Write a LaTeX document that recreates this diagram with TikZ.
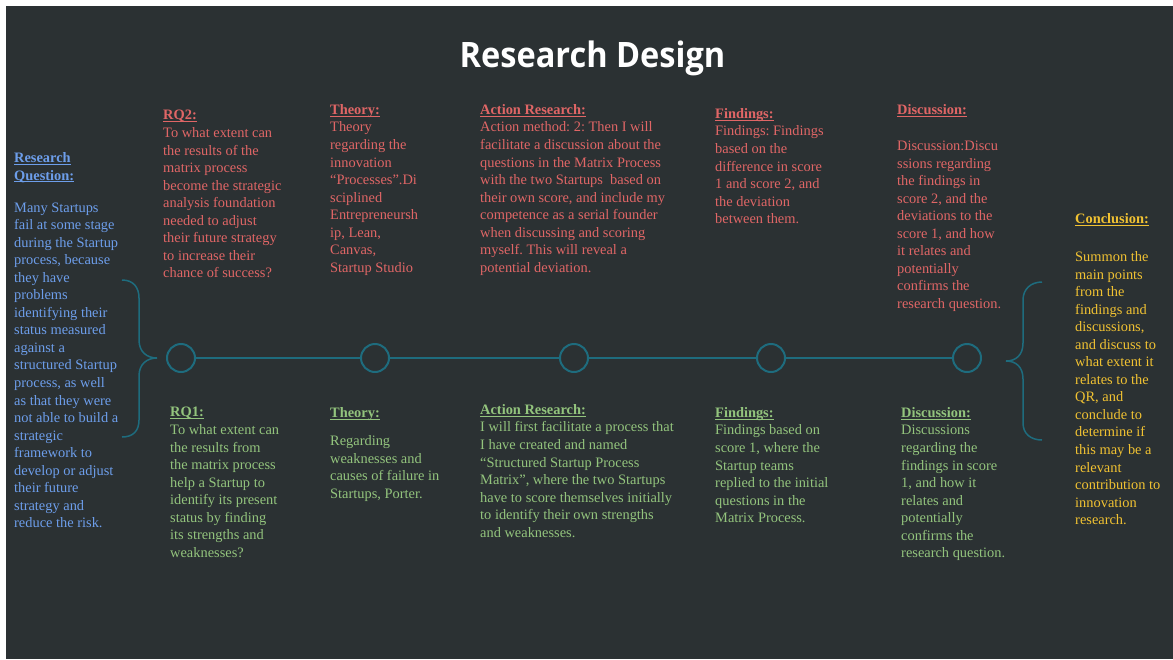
\documentclass[tikz,border=0pt]{standalone}
\usepackage{fontspec}
\setmainfont{Liberation Serif}
\newfontfamily\titlefont{Open Sans}
\frenchspacing
\definecolor{bgc}{HTML}{2B3133}
\definecolor{redt}{HTML}{E06666}
\definecolor{greent}{HTML}{93C47D}
\definecolor{bluet}{HTML}{6D9EEB}
\definecolor{yellowt}{HTML}{F1C232}
\definecolor{tealc}{HTML}{1E6C7E}
\newsavebox{\hdbox}
\newcommand{\hd}[1]{\sbox{\hdbox}{\textbf{#1}}\rlap{\rule[-2.2pt]{\wd\hdbox}{0.9pt}}\usebox{\hdbox}}
\tikzset{
  txt/.style={anchor=north west, inner sep=0pt, align=left, yshift=-4pt,
    font=\fontsize{14.4}{17.55}\selectfont\frenchspacing, execute at begin node=\strut},
  dot/.style={circle, draw=tealc, line width=2pt, minimum size=28pt, inner sep=0pt},
  tline/.style={draw=tealc, line width=2pt},
  brace/.style={draw=tealc, line width=1.5pt},
}
\begin{document}
\begin{tikzpicture}[x=1pt,y=-1pt]
\useasboundingbox (0,0) rectangle (1173,659);
\fill[white] (0,0) rectangle (1173,659);
\fill[bgc] (6,6) rectangle (1173,659);

\node[anchor=base, text=white, font=\titlefont\bfseries\fontsize{35}{40}\selectfont] (title) at (592.5,67) {\scalebox{0.93}[1]{Research Design}};

% timeline
\node[dot] (c1) at (181,358) {};
\node[dot] (c2) at (375,358) {};
\node[dot] (c3) at (574,358) {};
\node[dot] (c4) at (771,358) {};
\node[dot] (c5) at (967,358) {};
\draw[tline] (c1) -- (c2);
\draw[tline] (c2) -- (c3);
\draw[tline] (c3) -- (c4);
\draw[tline] (c4) -- (c5);

% braces
\draw[brace] (122,280) .. controls (133,280) and (139,287) .. (139,298) -- (139,340)
  .. controls (139,352) and (147,358) .. (157,358)
  .. controls (147,358) and (139,364) .. (139,376) -- (139,420)
  .. controls (139,431) and (133,437) .. (122,437);
\draw[brace] (1042,282) .. controls (1031,282) and (1023,289) .. (1023,300) -- (1023,343)
  .. controls (1023,355) and (1016,361) .. (1006,361)
  .. controls (1016,361) and (1023,367) .. (1023,379) -- (1023,423)
  .. controls (1023,434) and (1031,440) .. (1042,440);

% left research question
\node[txt, text=bluet] (rq) at (14,148.25) {\hd{Research}\\\hd{Question:}\\[14.5pt]
Many Startups\\fail at some stage\\during the Startup\\process, because\\they have\\problems\\identifying their\\status measured\\against a\\structured Startup\\process, as well\\as that they were\\not able to build a\\strategic\\framework to\\develop or adjust\\their future\\strategy and\\reduce the risk.};

% top row (red)
\node[txt, text=redt] (rq2) at (163,106.25) {\hd{RQ2:}\\To what extent can\\the results of the\\matrix process\\become the strategic\\analysis foundation\\needed to adjust\\their future strategy\\to increase their\\chance of success?};
\node[txt, text=redt] (th2) at (330,100.25) {\hd{Theory:}\\Theory\\regarding the\\innovation\\“Processes”.Di\\sciplined\\Entrepreneursh\\ip, Lean,\\Canvas,\\Startup Studio};
\node[txt, text=redt] (ar2) at (480,100.25) {\hd{Action Research:}\\Action method: 2: Then I will\\facilitate a discussion about the\\questions in the Matrix Process\\with the two Startups\ \ based on\\their own score, and include my\\competence as a serial founder\\when discussing and scoring\\myself. This will reveal a\\potential deviation.};
\node[txt, text=redt] (fi2) at (715,104.25) {\hd{Findings:}\\Findings: Findings\\based on the\\difference in score\\1 and score 2, and\\the deviation\\between them.};
\node[txt, text=redt] (di2) at (897,100.25) {\hd{Discussion:}\\[18.5pt]Discussion:Discu\\ssions regarding\\the findings in\\score 2, and the\\deviations to the\\score 1, and how\\it relates and\\potentially\\confirms the\\research question.};

% conclusion
\node[txt, text=yellowt] (con) at (1075,209.25) {\hd{Conclusion:}\\[20.5pt]Summon the\\main points\\from the\\findings and\\discussions,\\and discuss to\\what extent it\\relates to the\\QR, and\\conclude to\\determine if\\this may be a\\relevant\\contribution to\\innovation\\research.};

% bottom row (green)
\node[txt, text=greent] (rq1) at (170,403.25) {\hd{RQ1:}\\To what extent can\\the results from\\the matrix process\\help a Startup to\\identify its present\\status by finding\\its strengths and\\weaknesses?};
\node[txt, text=greent] (th1) at (330,403.25) {\hd{Theory:}\\[10.5pt]Regarding\\weaknesses and\\causes of failure in\\Startups, Porter.};
\node[txt, text=greent] (ar1) at (480,400.25) {\hd{Action Research:}\\I will first facilitate a process that\\I have created and named\\“Structured Startup Process\\Matrix”, where the two Startups\\have to score themselves initially\\to identify their own strengths\\and weaknesses.};
\node[txt, text=greent] (fi1) at (715,403.25) {\hd{Findings:}\\Findings based on\\score 1, where the\\Startup teams\\replied to the initial\\questions in the\\Matrix Process.};
\node[txt, text=greent] (di1) at (901,403.25) {\hd{Discussion:}\\Discussions\\regarding the\\findings in score\\1, and how it\\relates and\\potentially\\confirms the\\research question.};
\end{tikzpicture}
\end{document}
